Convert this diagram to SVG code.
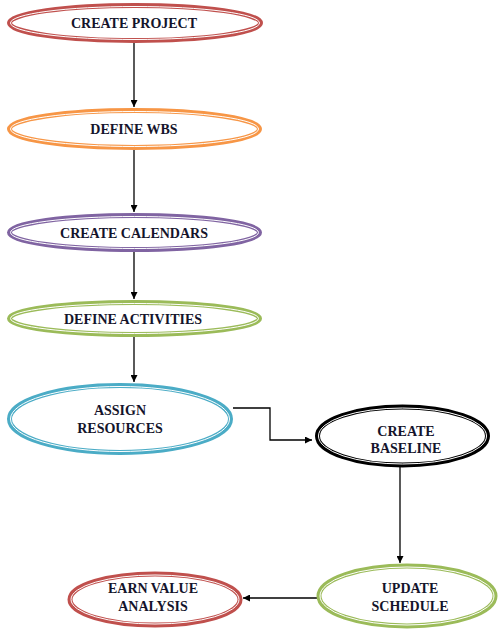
<svg xmlns="http://www.w3.org/2000/svg" width="500" height="630" viewBox="0 0 500 630">
<defs>
<style>
.o{fill:#fff;stroke-width:5}
.w{fill:none;stroke:#fff;stroke-width:1}
.t{font-family:"Liberation Serif","Times New Roman",serif;font-weight:bold;font-size:14px;fill:#14142b;text-anchor:middle}
.c{fill:none;stroke:#000;stroke-width:1.3}
</style>
<marker id="ah" viewBox="0 0 10 10" refX="10" refY="5" markerWidth="7" markerHeight="7" markerUnits="userSpaceOnUse" orient="auto">
<path d="M0,0 L10,5 L0,10 z" fill="#000"/>
</marker>
</defs>
<rect width="500" height="630" fill="#fff"/>
<g id="connectors">
<line class="c" x1="134" y1="43" x2="134" y2="107" marker-end="url(#ah)"/>
<line class="c" x1="134" y1="150" x2="134" y2="212" marker-end="url(#ah)"/>
<line class="c" x1="134" y1="252" x2="134" y2="299" marker-end="url(#ah)"/>
<line class="c" x1="134" y1="337" x2="134" y2="382" marker-end="url(#ah)"/>
<polyline class="c" points="233,408 270,408 270,440 312,440" marker-end="url(#ah)"/>
<line class="c" x1="400" y1="467" x2="400" y2="563" marker-end="url(#ah)"/>
<line class="c" x1="317" y1="598" x2="243" y2="598" marker-end="url(#ah)"/>
</g>
<g id="create-project">
<ellipse class="o" cx="135" cy="23" rx="125.5" ry="17.5" stroke="#C0504D"/>
<ellipse class="w" cx="135" cy="23" rx="124.5" ry="16.5"/>
<text class="t" x="134" y="28">CREATE PROJECT</text>
</g>
<g id="define-wbs">
<ellipse class="o" cx="134.5" cy="129" rx="125" ry="18.5" stroke="#F79646"/>
<ellipse class="w" cx="134.5" cy="129" rx="124" ry="17.5"/>
<text class="t" x="134" y="134">DEFINE WBS</text>
</g>
<g id="create-calendars">
<ellipse class="o" cx="134.5" cy="232.5" rx="125" ry="17" stroke="#8064A2"/>
<ellipse class="w" cx="134.5" cy="232.5" rx="124" ry="16"/>
<text class="t" x="134" y="238">CREATE CALENDARS</text>
</g>
<g id="define-activities">
<ellipse class="o" cx="134.5" cy="318.5" rx="125" ry="16" stroke="#9BBB59"/>
<ellipse class="w" cx="134.5" cy="318.5" rx="124" ry="15"/>
<text class="t" x="133" y="324">DEFINE ACTIVITIES</text>
</g>
<g id="assign-resources">
<ellipse class="o" cx="120" cy="419" rx="110.5" ry="33.5" stroke="#4BACC6"/>
<ellipse class="w" cx="120" cy="419" rx="109.5" ry="32.5"/>
<text class="t" x="120" y="415">ASSIGN</text>
<text class="t" x="120" y="433">RESOURCES</text>
</g>
<g id="create-baseline">
<ellipse class="o" cx="402.5" cy="436" rx="85" ry="29" stroke="#000"/>
<ellipse class="w" cx="402.5" cy="436" rx="84" ry="28"/>
<text class="t" x="406" y="436">CREATE</text>
<text class="t" x="406" y="453">BASELINE</text>
</g>
<g id="update-schedule">
<ellipse class="o" cx="407" cy="596" rx="88" ry="30" stroke="#9BBB59"/>
<ellipse class="w" cx="407" cy="596" rx="87" ry="29"/>
<text class="t" x="410" y="593">UPDATE</text>
<text class="t" x="410" y="611">SCHEDULE</text>
</g>
<g id="earn-value-analysis">
<ellipse class="o" cx="155" cy="599.5" rx="85" ry="25.5" stroke="#C0504D"/>
<ellipse class="w" cx="155" cy="599.5" rx="84" ry="24.5"/>
<text class="t" x="153" y="593">EARN VALUE</text>
<text class="t" x="153" y="611">ANALYSIS</text>
</g>
</svg>
